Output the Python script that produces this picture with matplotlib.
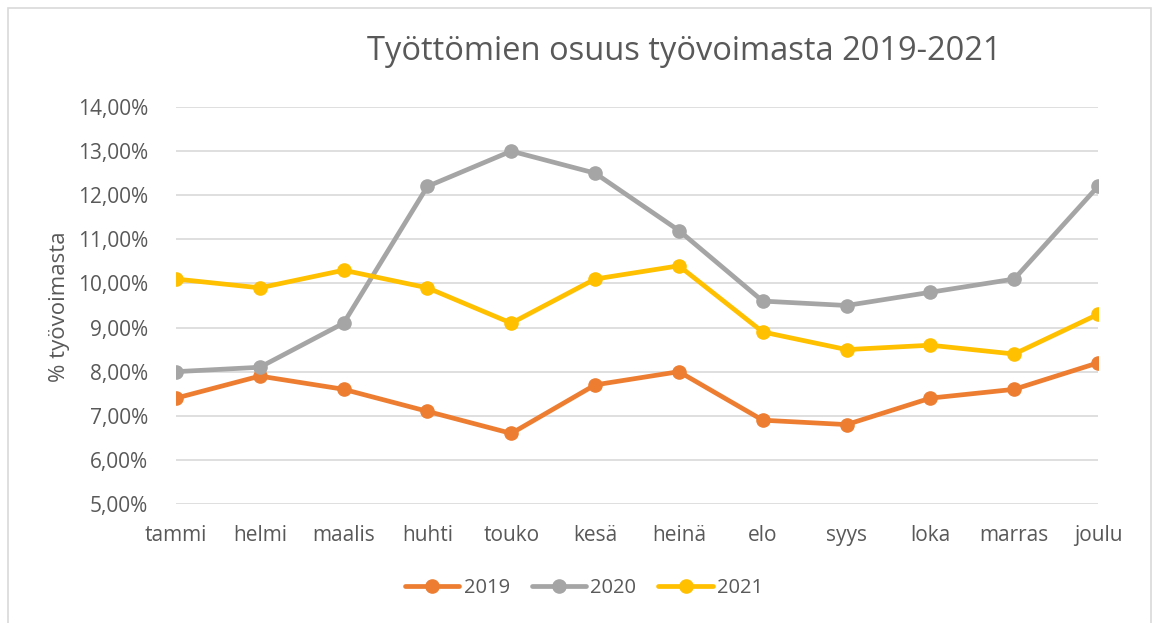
import matplotlib
matplotlib.use("Agg")
import matplotlib.pyplot as plt
from matplotlib.ticker import FuncFormatter
from matplotlib.patches import Rectangle

months = ["tammi", "helmi", "maalis", "huhti", "touko", "kesä", "heinä",
          "elo", "syys", "loka", "marras", "joulu"]
y2019 = [7.4, 7.9, 7.6, 7.1, 6.6, 7.7, 8.0, 6.9, 6.8, 7.4, 7.6, 8.2]
y2020 = [8.0, 8.1, 9.1, 12.2, 13.0, 12.5, 11.2, 9.6, 9.5, 9.8, 10.1, 12.2]
y2021 = [10.1, 9.9, 10.3, 9.9, 9.1, 10.1, 10.4, 8.9, 8.5, 8.6, 8.4, 9.3]
series = [("2019", y2019, "#ED7D31"), ("2020", y2020, "#A5A5A5"), ("2021", y2021, "#FFC000")]

plt.rcParams['font.family'] = ['Open Sans', 'DejaVu Sans']
txt = "#595959"

fig = plt.figure(figsize=(11.58, 6.23), dpi=100)
ax = fig.add_axes([176/1158, 1-504/623, (1098-176)/1158, (504-107)/623])

x = list(range(len(months)))
for name, vals, col in series:
    ax.plot(x, vals, color=col, lw=3.4, marker='o', ms=9.5, label=name,
            solid_capstyle='round', solid_joinstyle='round')

ax.set_xlim(0, len(months) - 1)
ax.set_ylim(5, 14)
ax.set_yticks(range(5, 15))
ax.yaxis.set_major_formatter(FuncFormatter(lambda v, p: f"{v:.2f}".replace(".", ",") + "%"))
ax.set_xticks(x)
ax.set_xticklabels(months)
ax.grid(axis='y', color='#D9D9D9', lw=1.2)
ax.set_axisbelow(True)
for s in ax.spines.values():
    s.set_visible(False)
ax.tick_params(length=0, labelsize=15, colors=txt)
ax.tick_params(axis='y', pad=20)
ax.tick_params(axis='x', pad=15)
for lab in ax.get_xticklabels() + ax.get_yticklabels():
    lab.set_color(txt)

fig.text(684/1158, 1-52/623, "Työttömien osuus työvoimasta 2019-2021", ha='center', va='center',
         fontsize=23.5, color=txt)
fig.text(60/1158, 1-307/623, "% työvoimasta", rotation=90, ha='center', va='center',
         fontsize=16, color=txt)

leg = fig.legend(loc='center', bbox_to_anchor=(584/1158, 1-588/623), ncol=3, frameon=False,
                 fontsize=14.5, handlelength=2.7, columnspacing=1.1, handletextpad=0.2,
                 labelcolor=txt)

fig.patches.append(Rectangle((8/1158, -0.1), (1151-8)/1158, 1.1-8/623 + 0.0,
                             transform=fig.transFigure, fill=False, ec='#D9D9D9', lw=1.2))

fig.savefig("out.png", dpi=100)
